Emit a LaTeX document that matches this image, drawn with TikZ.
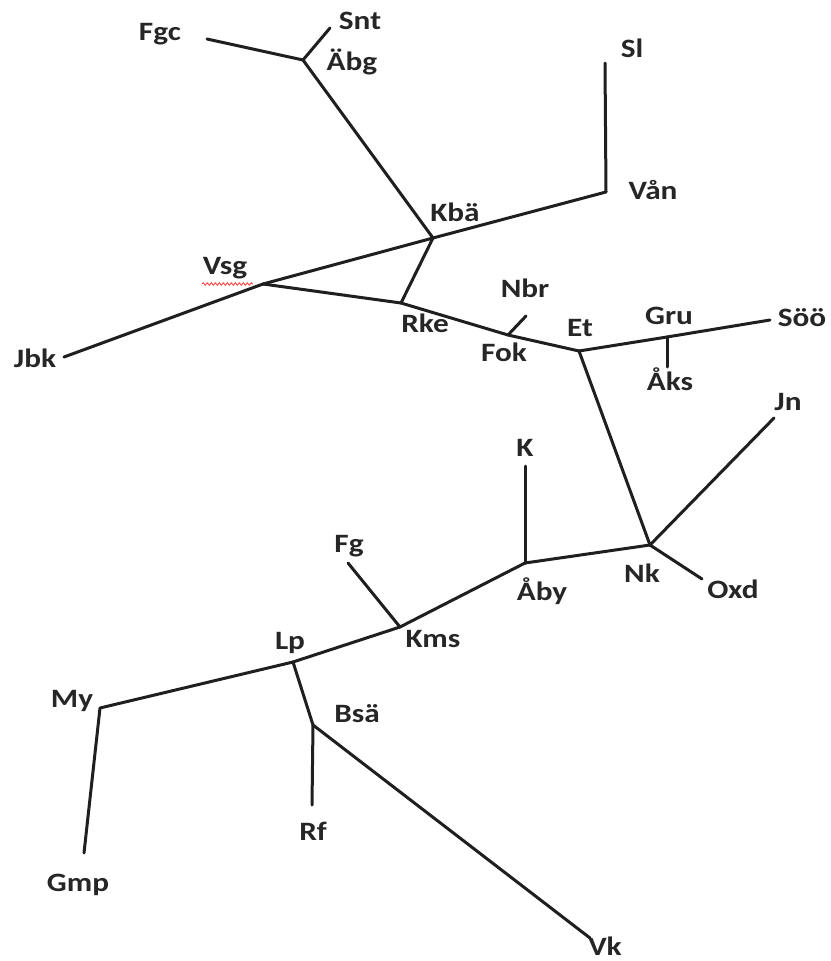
\documentclass[tikz,border=0pt]{standalone}
\usepackage{fontspec}
\setmainfont{Carlito}
\usetikzlibrary{decorations.pathmorphing}
\newcommand{\lbltext}[1]{\scalebox{1.18}[1]{\bfseries #1}}
\begin{document}
\begin{tikzpicture}[x=1pt,y=-1pt,
  edge/.style={line width=3pt,draw=black!88,line cap=round,line join=round},
  lbl/.style={inner sep=0pt,yshift=-4pt,text height=0.64em,text depth=0pt,font=\fontsize{26.5}{28}\selectfont,text=black!85}]
\useasboundingbox (0,0) rectangle (830,961);
% junctions / ends
\coordinate (fgc) at (207,39);
\coordinate (abg) at (303,60);
\coordinate (snt) at (330,28);
\coordinate (kba) at (433,238);
\coordinate (van) at (606,192);
\coordinate (sl) at (605,63);
\coordinate (vsg) at (263,284);
\coordinate (jbk) at (64,357);
\coordinate (rke) at (401,303);
\coordinate (fok) at (508,335);
\coordinate (nbr) at (526,316);
\coordinate (et) at (579,351);
\coordinate (gru) at (667,337);
\coordinate (soo) at (770,320);
\coordinate (aks) at (667,367);
\coordinate (nk) at (650,545);
\coordinate (jn) at (774,418);
\coordinate (oxd) at (702,579);
\coordinate (aby) at (525,563);
\coordinate (k) at (525,466);
\coordinate (kms) at (400,627);
\coordinate (fg) at (348,563);
\coordinate (lp) at (293,662);
\coordinate (my) at (100,708);
\coordinate (gmp) at (84,853);
\coordinate (bsa) at (313,725);
\coordinate (rf) at (312,805);
\coordinate (vk) at (590,938);
% edges
\draw[edge] (fgc) -- (abg);
\draw[edge] (abg) -- (snt);
\draw[edge] (abg) -- (kba);
\draw[edge] (kba) -- (van) -- (sl);
\draw[edge] (kba) -- (vsg);
\draw[edge] (kba) -- (rke);
\draw[edge] (vsg) -- (jbk);
\draw[edge] (vsg) -- (rke);
\draw[edge] (rke) -- (fok);
\draw[edge] (fok) -- (nbr);
\draw[edge] (fok) -- (et);
\draw[edge] (et) -- (gru);
\draw[edge] (gru) -- (soo);
\draw[edge] (gru) -- (aks);
\draw[edge] (et) -- (nk);
\draw[edge] (nk) -- (jn);
\draw[edge] (nk) -- (oxd);
\draw[edge] (nk) -- (aby);
\draw[edge] (aby) -- (k);
\draw[edge] (aby) -- (kms);
\draw[edge] (kms) -- (fg);
\draw[edge] (kms) -- (lp);
\draw[edge] (lp) -- (my) -- (gmp);
\draw[edge] (lp) -- (bsa);
\draw[edge] (bsa) -- (rf);
\draw[edge] (bsa) -- (vk);
% labels
\node[lbl] (Lfgc) at (160,33) {\lbltext{Fgc}};
\node[lbl] (Lsnt) at (360,22) {\lbltext{Snt}};
\node[lbl] (Labg) at (352,63) {\lbltext{Äbg}};
\node[lbl] (Lsl) at (632,50) {\lbltext{Sl}};
\node[lbl] (Lvan) at (653,192) {\lbltext{Vån}};
\node[lbl] (Lkba) at (455,214) {\lbltext{Kbä}};
\node[lbl] (Lvsg) at (225,267) {\lbltext{Vsg}};
\node[lbl] (Ljbk) at (35,360) {\lbltext{Jbk}};
\node[lbl] (Lrke) at (425,325) {\lbltext{Rke}};
\node[lbl] (Lnbr) at (525,290) {\lbltext{Nbr}};
\node[lbl] (Lfok) at (504,354) {\lbltext{Fok}};
\node[lbl] (Let) at (580,329) {\lbltext{Et}};
\node[lbl] (Lgru) at (669,317) {\lbltext{Gru}};
\node[lbl] (Lsoo) at (802,319) {\lbltext{Söö}};
\node[lbl] (Laks) at (670,383) {\lbltext{Åks}};
\node[lbl] (Ljn) at (788,403) {\lbltext{Jn}};
\node[lbl] (Lk) at (525,449) {\lbltext{K}};
\node[lbl] (Lnk) at (642,575) {\lbltext{Nk}};
\node[lbl] (Loxd) at (733,591) {\lbltext{Oxd}};
\node[lbl] (Laby) at (542,593) {\lbltext{Åby}};
\node[lbl] (Lfg) at (349,545) {\lbltext{Fg}};
\node[lbl] (Lkms) at (433,640) {\lbltext{Kms}};
\node[lbl] (Llp) at (290,642) {\lbltext{Lp}};
\node[lbl] (Lmy) at (72,700) {\lbltext{My}};
\node[lbl] (Lbsa) at (357,715) {\lbltext{Bsä}};
\node[lbl] (Lrf) at (313,833) {\lbltext{Rf}};
\node[lbl] (Lgmp) at (78,884) {\lbltext{Gmp}};
\node[lbl] (Lvk) at (605,948) {\lbltext{Vk}};
% spell-check underline
\coordinate (wavyA) at (202,284);
\coordinate (wavyB) at (253,284);
\draw[red!80,line width=0.8pt,decorate,decoration={snake,amplitude=1.2pt,segment length=4pt}] (wavyA) -- (wavyB);
\end{tikzpicture}
\end{document}
